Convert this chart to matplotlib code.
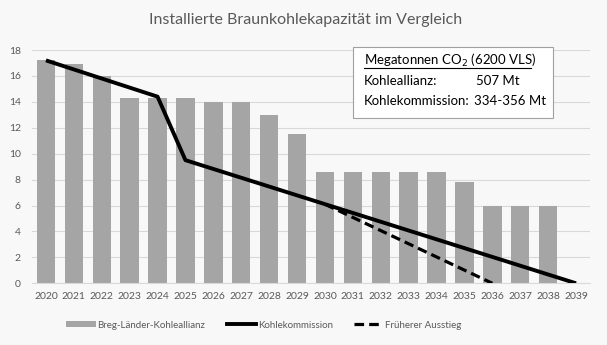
import matplotlib
matplotlib.use("Agg")
import matplotlib.pyplot as plt
from matplotlib.lines import Line2D
from matplotlib.patches import Patch, Rectangle

plt.rcParams['font.family'] = ['Lato', 'DejaVu Sans']

years = [str(y) for y in range(2020, 2040)]
allianz = [17.2, 16.9, 16.0, 14.3, 14.3, 14.3, 14.0, 14.0, 13.0, 11.5,
           8.6, 8.6, 8.6, 8.6, 8.6, 7.8, 6.0, 6.0, 6.0, None]
kommission_years = ['2020', '2024', '2025', '2039']
kommission_vals = [17.2, 14.4, 9.5, 0.0]
frueher_years = ['2030', '2036']
frueher_vals = [6.1, 0.0]
yticks = [0, 2, 4, 6, 8, 10, 12, 14, 16, 18]

bg = '#F8F8F8'
txt = '#595959'

fig = plt.figure(figsize=(6.07, 3.45), dpi=100, facecolor=bg)
ax = fig.add_axes([32/607, 1 - 283.3/345, (590-32)/607, (283.3-50)/345])
ax.set_facecolor(bg)

idx = {y: i for i, y in enumerate(years)}
xs = [i for i, v in enumerate(allianz) if v is not None]
hs = [v for v in allianz if v is not None]
ax.bar(xs, hs, width=0.66, color='#A5A5A5', zorder=2)
ax.plot([idx[y] for y in kommission_years], kommission_vals, color='black', lw=2.8,
        solid_capstyle='butt', zorder=4)
ax.plot([idx[y] for y in frueher_years], frueher_vals, color='black', lw=2.3,
        ls=(0, (3, 1.6)), zorder=3)

ax.set_xlim(-0.5, 19.5)
ax.set_ylim(0, 18)
ax.set_yticks(yticks)
ax.set_xticks(range(len(years)))
ax.set_xticklabels(years)
ax.grid(axis='y', color='#D9D9D9', lw=0.8, zorder=0)
for s in ['top', 'right', 'left']:
    ax.spines[s].set_visible(False)
ax.spines['bottom'].set_color('#D9D9D9')
ax.tick_params(axis='both', length=0, labelsize=7.5, colors=txt, pad=6)
ax.tick_params(axis='y', pad=8)

fig.text(0.503, 1 - 20/345, 'Installierte Braunkohlekapazität im Vergleich',
         ha='center', va='center', fontsize=11.5, color=txt)

# text box
fig.patches.append(Rectangle((353/607, 1 - 118/345), 200/607, 71/345,
                             transform=fig.transFigure, facecolor='white',
                             edgecolor='#A0A0A0', lw=0.8, zorder=5))
fs = 9.5
fig.text(364/607, 1 - 60/345, r'Megatonnen CO$_2$ (6200 VLS)', fontsize=fs,
         color='black', va='center', ha='left', zorder=6)
fig.lines.append(Line2D([364/607, 531/607], [1 - 68/345, 1 - 68/345],
                        transform=fig.transFigure, color='black', lw=0.8, zorder=6))
fig.text(364/607, 1 - 81/345, 'Kohleallianz:', fontsize=fs, color='black',
         va='center', ha='left', zorder=6)
fig.text(476/607, 1 - 81/345, '507 Mt', fontsize=fs, color='black',
         va='center', ha='left', zorder=6)
fig.text(364/607, 1 - 101/345, 'Kohlekommission:', fontsize=fs, color='black',
         va='center', ha='left', zorder=6)
fig.text(474/607, 1 - 101/345, '334-356 Mt', fontsize=fs, color='black',
         va='center', ha='left', zorder=6)

handles = [Patch(facecolor='#A5A5A5', edgecolor='none'),
           Line2D([], [], color='black', lw=2.8),
           Line2D([], [], color='black', lw=2.3, ls=(0, (3, 1.6)))]
labels = ['Breg-Länder-Kohleallianz', 'Kohlekommission', 'Früherer Ausstieg']
fig.legend(handles, labels, loc='center', bbox_to_anchor=(0.435, 1 - 325/345),
           ncol=3, frameon=False, fontsize=7, labelcolor=txt,
           handlelength=3.0, handletextpad=0.2, columnspacing=2.2,
           handleheight=0.6)

fig.savefig('out.png', dpi=100, facecolor=bg)
